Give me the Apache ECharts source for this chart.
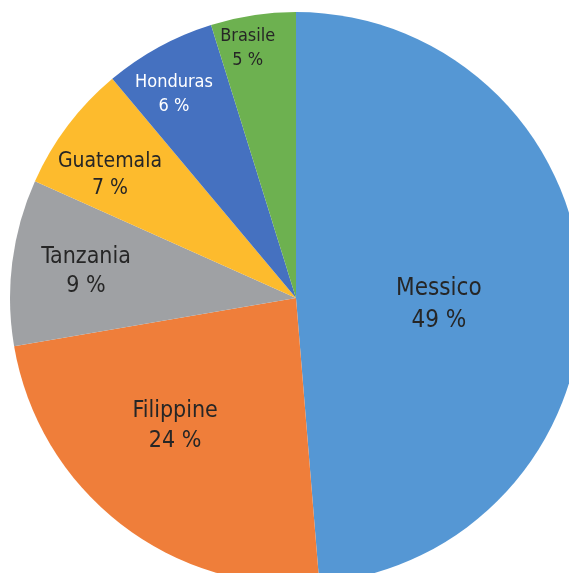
<!DOCTYPE html>
<html>
<head>
<meta charset="utf-8">
<script src="https://cdn.jsdelivr.net/npm/echarts@6/dist/echarts.min.js"></script>
<style>
    html, body { margin: 0; padding: 0; background: #fff; }
    #chart { width: 569px; height: 573px; }
</style>
</head>
<body>
<div id="chart"></div>
<script>
    // paesi, in senso orario dalle ore 12
    var countries = ['Messico', 'Filippine', 'Tanzania', 'Guatemala', 'Honduras', 'Brasile'];
    // quote in %
    var shares = [48.7, 23.6, 9.4, 7.2, 6.3, 4.8];

    // stile per fetta
    var colors = ['#5597D4', '#EF7E3A', '#9FA1A4', '#FDBB2D', '#4571C0', '#6DB150'];
    var textColors = ['#262626', '#262626', '#262626', '#262626', '#ffffff', '#262626'];
    var fontSizes = [24, 23, 23, 21, 18, 18];
    var lineHeights = [32, 30, 29, 27, 24, 24];
    // distanza etichetta dal centro (frazione del raggio) e piccola rotazione in gradi
    var labelRadius = [0.50, 0.615, 0.74, 0.78, 0.83, 0.89];
    var labelTurn = [5, 5.6, 0, -3.6, -2.3, -2.3];

    var cx = 296, cy = 298, r = 286;

    // angolo medio di ogni fetta, gradi in senso orario dalle ore 12
    var total = shares.reduce(function (a, b) { return a + b; }, 0);
    var midAngles = [];
    var acc = 0;
    shares.forEach(function (v) {
        midAngles.push((acc + v / 2) / total * 360);
        acc += v;
    });

    var chart = echarts.init(document.getElementById('chart'));

    chart.setOption({
        animation: false,
        backgroundColor: '#ffffff',
        series: [{
            type: 'pie',
            center: [cx, cy],
            radius: r,
            startAngle: 90,
            clockwise: true,
            avoidLabelOverlap: false,
            emphasis: { disabled: true },
            itemStyle: { borderWidth: 0 },
            labelLine: { show: false },
            label: {
                show: true,
                position: 'inside',
                fontFamily: '"Liberation Sans Narrow", "DejaVu Sans Condensed", sans-serif',
                formatter: function (p) {
                    return p.name + '\n' + Math.round(p.percent) + ' %';
                }
            },
            labelLayout: function (p) {
                var i = p.dataIndex;
                var a = (midAngles[i] + labelTurn[i]) * Math.PI / 180;
                var d = labelRadius[i] * r;
                return {
                    x: cx + d * Math.sin(a),
                    y: cy - d * Math.cos(a),
                    align: 'center',
                    verticalAlign: 'middle'
                };
            },
            data: countries.map(function (name, i) {
                return {
                    name: name,
                    value: shares[i],
                    itemStyle: { color: colors[i] },
                    label: {
                        color: textColors[i],
                        fontSize: fontSizes[i],
                        lineHeight: lineHeights[i]
                    }
                };
            })
        }]
    });
</script>
</body>
</html>
